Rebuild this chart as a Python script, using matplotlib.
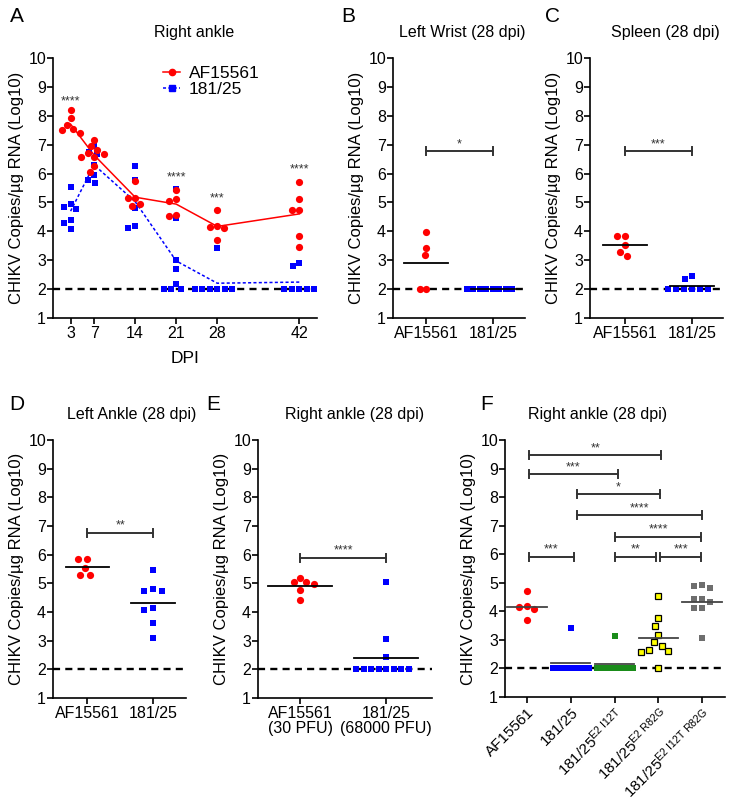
import numpy as np
import matplotlib.pyplot as plt
from matplotlib.lines import Line2D

plt.rcParams['font.family'] = ['Liberation Sans', 'DejaVu Sans']
plt.rcParams['mathtext.fontset'] = 'custom'
plt.rcParams['mathtext.rm'] = 'Liberation Sans'
plt.rcParams['mathtext.it'] = 'Liberation Sans:italic'
plt.rcParams['mathtext.bf'] = 'Liberation Sans:bold'

# ---- data: CHIKV copies / ug RNA (log10) ----
# panel A, right ankle time course
dpi_days = [3, 7, 14, 21, 28, 42]
a_af15561 = [
    [8.21, 7.92, 7.69, 7.54, 7.50, 7.40],
    [7.17, 6.94, 6.82, 6.70, 6.69, 6.58, 6.57, 6.25, 6.04],
    [5.73, 5.17, 5.16, 4.96, 4.89],
    [5.42, 5.13, 5.04, 4.58, 4.54],
    [4.73, 4.18, 4.14, 4.11, 3.69],
    [5.71, 5.13, 4.75, 4.73, 3.85, 3.45],
]
a_18125 = [
    [5.54, 4.96, 4.84, 4.79, 4.38, 4.29, 4.09],
    [6.94, 6.74, 6.69, 6.31, 5.96, 5.79, 5.67],
    [6.25, 5.79, 4.81, 4.18, 4.12],
    [5.47, 4.46, 3.00, 2.68, 2.19, 2.0, 2.0, 2.0],
    [3.43, 2.0, 2.0, 2.0, 2.0, 2.0, 2.0],
    [2.91, 2.79, 2.0, 2.0, 2.0, 2.0, 2.0],
]
a_sig_days = [3, 21, 28, 42]
a_sig_y = [8.65, 6.0, 5.3, 6.3]
a_sig = ['****', '****', '***', '****']

# panels B-D, 28 dpi
strains = ['AF15561', '181/25']
b_af15561 = [3.98, 3.41, 3.19, 2.0, 2.0]
b_18125 = [2.0, 2.0, 2.0, 2.0, 2.0, 2.0, 2.0, 2.0]
c_af15561 = [3.83, 3.83, 3.51, 3.29, 3.16]
c_18125 = [2.44, 2.35, 2.0, 2.0, 2.0, 2.0, 2.0, 2.0]
d_af15561 = [5.84, 5.84, 5.54, 5.28, 5.28]
d_18125 = [5.45, 4.80, 4.72, 4.72, 4.14, 4.07, 3.60, 3.11]

# panel E, dose comparison
e_labels = ['AF15561\n(30 PFU)', '181/25\n(68000 PFU)']
e_af15561 = [5.18, 5.06, 5.03, 4.97, 4.78, 4.41]
e_18125 = [5.03, 3.06, 2.42, 2.0, 2.0, 2.0, 2.0, 2.0, 2.0, 2.0, 2.0]

# panel F, E2 mutants
f_labels = ['AF15561', '181/25',
            r'181/25$^{\mathregular{E2\ I12T}}$',
            r'181/25$^{\mathregular{E2\ R82G}}$',
            r'181/25$^{\mathregular{E2\ I12T\ R82G}}$']
f_af15561 = [4.71, 4.19, 4.15, 4.07, 3.69]
f_18125 = [3.42, 2.0, 2.0, 2.0, 2.0, 2.0, 2.0, 2.0]
f_i12t = [3.14, 2.0, 2.0, 2.0, 2.0, 2.0, 2.0, 2.0]
f_r82g = [4.54, 3.75, 3.48, 3.16, 2.91, 2.80, 2.66, 2.61, 2.59, 2.0]
f_i12t_r82g = [4.91, 4.87, 4.81, 4.42, 4.42, 4.31, 4.11, 4.11, 3.06]
f_brackets = [(1.05, 4.07, 9.46, '**'), (1.05, 3.07, 8.80, '***'),
              (2.14, 4.03, 8.10, '*'), (2.14, 5.0, 7.36, '****'),
              (3.02, 4.98, 6.62, '****'), (1.04, 2.08, 5.92, '***'),
              (3.02, 3.94, 5.92, '**'), (4.04, 4.98, 5.92, '***')]

RED = '#ff0000'
BLUE = '#0000ff'
GREEN = '#1a8c1a'
YELLOW = '#ffff00'
GREY = '#6e6e6e'
STAR = '#333333'
YLAB = 'CHIKV Copies/µg RNA (Log10)'

W, H = 735, 805
fig = plt.figure(figsize=(W / 100, H / 100), dpi=100)


def add_ax(l, r, t, b):
    return fig.add_axes([l / W, 1 - b / H, (r - l) / W, (b - t) / H])


def setup(ax, xlim):
    ax.set_xlim(*xlim)
    ax.set_ylim(1, 10)
    ax.set_yticks(range(1, 11))
    for s in ['top', 'right']:
        ax.spines[s].set_visible(False)
    for s in ['left', 'bottom']:
        ax.spines[s].set_linewidth(1.2)
    ax.tick_params(direction='out', length=4, width=1.2, labelsize=11.5, pad=2)
    ax.tick_params(axis='y', labelsize=11.5, pad=1)
    ax.axhline(2, color='black', ls=(0, (3, 2.2)), lw=1.7, zorder=2)
    ax.set_ylabel(YLAB, fontsize=12, labelpad=3)


def ppu(ax):
    p0 = ax.transData.transform((0, 0))
    p1 = ax.transData.transform((1, 1))
    return p1 - p0


def swarm_offsets(vals, d, ppu_y):
    # beeswarm: each point takes the free x-slot nearest the centre
    ys = np.asarray(vals, dtype=float) * ppu_y
    order = np.argsort(-ys, kind='stable')
    offs = np.zeros(len(ys))
    placed = []
    for i in order:
        y = ys[i]
        blocked = []
        for px, py in placed:
            dy = abs(py - y)
            if dy < d:
                w = np.sqrt(d * d - dy * dy)
                blocked.append((px - w, px + w))
        cands = [0.0] + [b[0] for b in blocked] + [b[1] for b in blocked]
        cands.sort(key=lambda c: (round(abs(c), 6), c))
        for c in cands:
            if all(not (lo + 1e-6 < c < hi - 1e-6) for lo, hi in blocked):
                break
        offs[i] = c
        placed.append((c, y))
    return offs


def dots(ax, x0, vals, color, marker, d_px, ms, mec=None, mew=0.0):
    px, py = ppu(ax)
    xs = x0 + swarm_offsets(vals, d_px, py) / px
    ax.plot(xs, vals, ls='none', marker=marker, ms=ms, mfc=color,
            mec=mec if mec else color, mew=mew, clip_on=False, zorder=3)


def mean_line(ax, x0, vals, half, color='black'):
    m = np.mean(vals)
    ax.plot([x0 - half, x0 + half], [m, m], color=color, lw=1.3, zorder=4)


def bracket(ax, x1, x2, y, text):
    cap = 4 / ppu(ax)[1]
    ax.plot([x1, x2], [y, y], color=STAR, lw=1.4, zorder=3, clip_on=False)
    for x in (x1, x2):
        ax.plot([x, x], [y - cap, y + cap], color=STAR, lw=1.4, zorder=3, clip_on=False)
    ax.text((x1 + x2) / 2, y + 4 / ppu(ax)[1], text, ha='center', va='baseline',
            fontsize=9, color=STAR)


def two_group(ax, a_vals, b_vals, labels, d_px, half):
    ax.set_xticks([1, 2])
    ax.set_xticklabels(labels, fontsize=11.5)
    dots(ax, 1, a_vals, RED, 'o', d_px, 5.2)
    dots(ax, 2, b_vals, BLUE, 's', d_px, 4.6)
    mean_line(ax, 1, a_vals, half)
    mean_line(ax, 2, b_vals, half)


# ---- A ----
axA = add_ax(53, 317, 58, 318)
setup(axA, (0, 45))
axA.set_xticks(dpi_days)
axA.set_xlabel('DPI', fontsize=12.5, labelpad=7)
for day, vals in zip(dpi_days, a_18125):
    dots(axA, day, vals, BLUE, 's', 7.5, 4.6)
for day, vals in zip(dpi_days, a_af15561):
    dots(axA, day, vals, RED, 'o', 7.5, 5.2)
axA.plot(dpi_days, [np.mean(v) for v in a_af15561], color=RED, lw=1.1, zorder=2.5)
axA.plot(dpi_days, [np.mean(v) for v in a_18125], color=BLUE, lw=1.1,
         ls=(0, (2, 1.5)), zorder=2.5)
for d, y, s in zip(a_sig_days, a_sig_y, a_sig):
    axA.text(d, y - 0.25, s, ha='center', va='baseline', fontsize=9, color=STAR)
handles = [Line2D([], [], color=RED, lw=1.1, marker='o', ms=4.5),
           Line2D([], [], color=BLUE, lw=1.1, ls=(0, (2, 1.5)), marker='s', ms=4)]
axA.legend(handles, strains, loc='upper left', frameon=False, fontsize=12.5,
           bbox_to_anchor=(163 / W, 1 - 66 / H), bbox_transform=fig.transFigure,
           borderpad=0, borderaxespad=0, handlelength=1.0, handletextpad=0.5,
           labelspacing=0.05)

# ---- B ----
axB = add_ax(393, 525, 58, 318)
setup(axB, (0.5, 2.48))
two_group(axB, b_af15561, b_18125, strains, 6.5, 0.33)
bracket(axB, 1, 2, 6.77, '*')

# ---- C ----
axC = add_ax(590, 723, 58, 318)
setup(axC, (0.48, 2.46))
two_group(axC, c_af15561, c_18125, strains, 8, 0.33)
bracket(axC, 1, 2, 6.77, '***')

# ---- D ----
axD = add_ax(53, 186, 440, 698)
setup(axD, (0.48, 2.5))
two_group(axD, d_af15561, d_18125, strains, 9, 0.33)
bracket(axD, 1, 2, 6.76, '**')

# ---- E ----
axE = add_ax(258, 432, 440, 698)
setup(axE, (0.51, 2.53))
two_group(axE, e_af15561, e_18125, e_labels, 7.5, 0.37)
for t in axE.get_xticklabels():
    t.set_linespacing(0.95)
bracket(axE, 1, 2, 5.89, '****')

# ---- F ----
axF = add_ax(505, 725, 440, 697)
setup(axF, (0.5, 5.52))
axF.set_xticks(range(1, 6))
axF.set_xticklabels(f_labels, fontsize=11, rotation=45, ha='right', va='top',
                    rotation_mode='anchor')
dots(axF, 1, f_af15561, RED, 'o', 7.5, 5.2)
dots(axF, 2, f_18125, BLUE, 's', 6, 4.6)
dots(axF, 3, f_i12t, GREEN, 's', 6, 4.6)
dots(axF, 4, f_r82g, YELLOW, 's', 8.5, 5.0, mec='black', mew=0.9)
dots(axF, 5, f_i12t_r82g, GREY, 's', 8, 4.8)
for i, vals in enumerate([f_af15561, f_18125, f_i12t, f_r82g, f_i12t_r82g]):
    mean_line(axF, i + 1, vals, 0.45, color='#444444')
for x1, x2, y, s in f_brackets:
    bracket(axF, x1, x2, y, s)

# titles and panel letters
titles = [(194, 33, 'Right ankle'), (462, 33, 'Left Wrist (28 dpi)'),
          (665, 33, 'Spleen (28 dpi)'), (132, 414, 'Left Ankle (28 dpi)'),
          (355, 414, 'Right ankle (28 dpi)'), (598, 414, 'Right ankle (28 dpi)')]
for x, y, s in titles:
    fig.text(x / W, 1 - y / H, s, ha='center', va='center', fontsize=11.5)
letters = [(17, 17, 'A'), (348, 17, 'B'), (552, 17, 'C'),
           (17, 405, 'D'), (213, 405, 'E'), (487, 405, 'F')]
for x, y, s in letters:
    fig.text(x / W, 1 - y / H, s, ha='center', va='center', fontsize=15)

fig.savefig('out.png', dpi=100)
